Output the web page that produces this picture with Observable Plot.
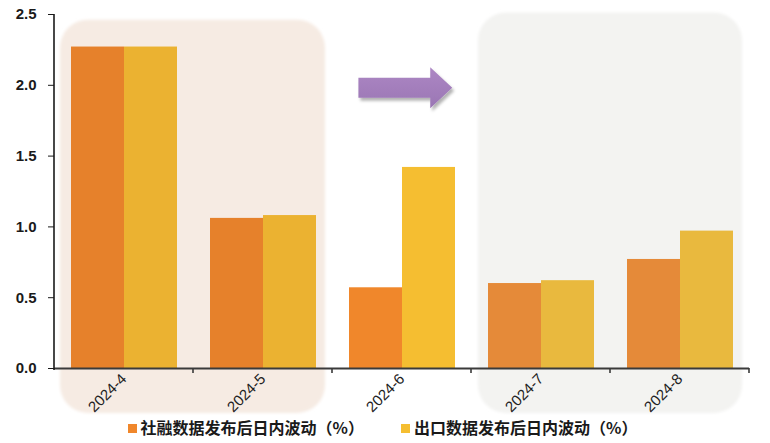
<!DOCTYPE html>
<html><head><meta charset="utf-8">
<script src="https://cdn.jsdelivr.net/npm/d3@7"></script>
<script src="https://cdn.jsdelivr.net/npm/@observablehq/plot@0.6"></script>
<style>
body{margin:0;background:#fff;font-family:"Liberation Sans","Noto Sans CJK SC",sans-serif;}
#wrap{position:relative;width:770px;height:443px;overflow:hidden;}
#legend{position:absolute;left:0;top:417px;width:765px;display:flex;justify-content:center;gap:37px;
  font-family:"Noto Sans CJK SC","Liberation Sans",sans-serif;font-weight:bold;font-size:16px;color:#1a1a1a;line-height:21px;}
#legend span.sw{display:inline-block;width:9px;height:9px;margin-right:4px;vertical-align:middle;position:relative;top:-1px;}
</style></head><body><div id="wrap"></div>
<script>
// ---- data ----
const months = ["2024-4", "2024-5", "2024-6", "2024-7", "2024-8"];
const seriesNames = ["社融数据发布后日内波动（%）", "出口数据发布后日内波动（%）"];
const socialFinancingVol = [2.27, 1.06, 0.57, 0.60, 0.77];
const exportVol = [2.27, 1.08, 1.42, 0.62, 0.97];
const yTicks = [0, 0.5, 1.0, 1.5, 2.0, 2.5];
const highlightGroups = [["2024-4", "2024-5"], ["2024-7", "2024-8"]];

const seriesColors = ["#F0872B", "#F5BE31"];
const highlightColors = ["#F6EBE3", "#F3F3F1"];
const tintColors = ["rgb(150,80,50)", "rgb(167,162,143)"];
const tintOpacity = [0.1, 0.15];

const rows = months.flatMap((m, i) => [
  {month: m, series: seriesNames[0], value: socialFinancingVol[i]},
  {month: m, series: seriesNames[1], value: exportVol[i]}
]);

const plot = Plot.plot({
  width: 770, height: 443,
  marginLeft: 52, marginRight: 20, marginTop: 14, marginBottom: 75,
  style: {fontFamily: '"Liberation Sans","Noto Sans CJK SC",sans-serif', background: "transparent", color: "#1a1a1a"},
  fx: {domain: months, padding: 0, label: null},
  x: {domain: seriesNames, paddingInner: 0, paddingOuter: 0.31, axis: null},
  y: {domain: [0, 2.5], label: null},
  color: {domain: seriesNames, range: seriesColors},
  marks: [
    Plot.barY(rows, {fx: "month", x: "series", y: "value", fill: "series"}),
    ...highlightGroups.map((g, i) =>
      Plot.barY(rows.filter(r => g.includes(r.month)), {fx: "month", x: "series", y: "value", fill: tintColors[i], fillOpacity: tintOpacity[i]})
    ),
    Plot.axisY({ticks: yTicks, tickFormat: ".1f", tickSize: 6, tickPadding: 12, fontSize: 15, fontWeight: "bold", label: null, stroke: "#1a1a1a"}),
    Plot.axisFx({anchor: "bottom", tickSize: 0, tickRotate: -45, tickPadding: 8, fontSize: 15, label: null, fill: "#222"}),
    Plot.ruleY([0], {stroke: "#3a3a3a", strokeWidth: 2})
  ]
});

document.getElementById("wrap").appendChild(plot);

// ---- decorations through the plot's scales ----
const svg = d3.select(plot);
const fx = plot.scale("fx");
const y = plot.scale("y");
const bw = fx.bandwidth;
const y0 = y.apply(0);
const yTop = y.apply(2.5);

const defs = svg.append("defs");
defs.append("filter").attr("id", "soft").attr("x", "-10%").attr("y", "-10%").attr("width", "120%").attr("height", "120%")
  .append("feGaussianBlur").attr("stdDeviation", 1.6);
const sh = defs.append("filter").attr("id", "shadow").attr("x", "-20%").attr("y", "-30%").attr("width", "150%").attr("height", "180%");
sh.append("feDropShadow").attr("dx", 2).attr("dy", 3).attr("stdDeviation", 1.5).attr("flood-color", "#000").attr("flood-opacity", 0.3);
const grad = defs.append("linearGradient").attr("id", "arrowGrad").attr("x1", 0).attr("y1", 0).attr("x2", 0).attr("y2", 1);
grad.append("stop").attr("offset", "0%").attr("stop-color", "#AD87C4");
grad.append("stop").attr("offset", "100%").attr("stop-color", "#9A76B4");

// highlight panels behind the bars
const panelTop = [y.apply(2.46), y.apply(2.51)];
highlightGroups.forEach((g, i) => {
  const x1 = fx.apply(g[0]) + (i === 0 ? 6 : 7);
  const x2 = fx.apply(g[g.length - 1]) + bw - 7;
  svg.insert("rect", ":first-child")
    .attr("x", x1).attr("y", panelTop[i])
    .attr("width", x2 - x1).attr("height", y0 + 45 - panelTop[i])
    .attr("rx", 28).attr("ry", 28)
    .attr("fill", highlightColors[i])
    .attr("filter", "url(#soft)");
});

// y axis line
svg.append("line").attr("x1", fx.apply(months[0])).attr("x2", fx.apply(months[0]))
  .attr("y1", yTop).attr("y2", y0 + 2).attr("stroke", "#1a1a1a").attr("stroke-width", 1.6);

// boundary ticks on the x axis
const bounds = months.map(m => fx.apply(m)).concat([fx.apply(months[months.length - 1]) + bw]);
bounds.slice(1).forEach(bx => {
  svg.append("line").attr("x1", bx).attr("x2", bx).attr("y1", y0).attr("y2", y0 + 5)
    .attr("stroke", "#3a3a3a").attr("stroke-width", 1.6);
});

// arrow in the 2024-6 column
const ax0 = fx.apply("2024-6") + 0.19 * bw;
const ax1 = fx.apply("2024-6") + 0.865 * bw;
const headLen = 22, shaftH = 10, headH = 20.5;
const ay = y.apply(1.98);
const p = d3.path();
p.moveTo(ax0, ay - shaftH);
p.lineTo(ax1 - headLen, ay - shaftH);
p.lineTo(ax1 - headLen, ay - headH);
p.lineTo(ax1, ay);
p.lineTo(ax1 - headLen, ay + headH);
p.lineTo(ax1 - headLen, ay + shaftH);
p.lineTo(ax0, ay + shaftH);
p.closePath();
svg.append("path").attr("d", p.toString()).attr("fill", "url(#arrowGrad)").attr("filter", "url(#shadow)");

// legend
const legend = d3.select("#wrap").append("div").attr("id", "legend");
seriesNames.forEach((s, i) => {
  const item = legend.append("div");
  item.append("span").attr("class", "sw").style("background", seriesColors[i]);
  item.append("span").text(s);
});
</script>
</body></html>
